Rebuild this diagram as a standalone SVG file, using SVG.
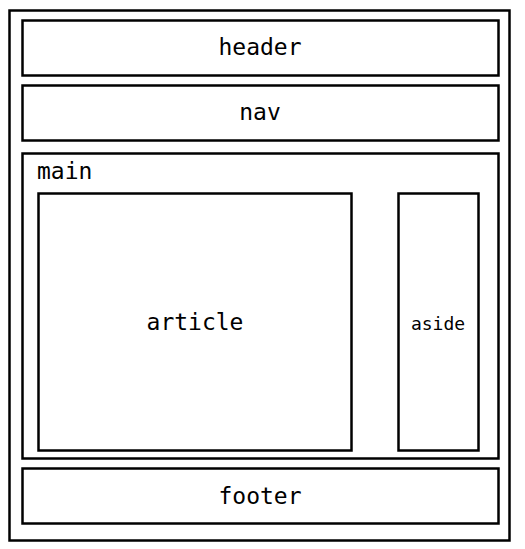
<svg xmlns="http://www.w3.org/2000/svg" width="525" height="549" viewBox="0 0 525 549">
<style>
rect{fill:#fff;stroke:#000;stroke-width:2.5}
text{font-family:"DejaVu Sans Mono","Liberation Mono",monospace;fill:#000;font-size:23px}
.c{text-anchor:middle}
.s{font-size:18px}
</style>
<rect width="525" height="549" style="stroke:none"/>
<g id="body"><rect x="9.5" y="10.5" width="500" height="530"/></g>
<g id="header"><rect x="22.5" y="20.5" width="476" height="55"/><text class="c" x="260" y="55">header</text></g>
<g id="nav"><rect x="22.5" y="85.5" width="476" height="55"/><text class="c" x="260" y="120">nav</text></g>
<g id="main"><rect x="22.5" y="153.5" width="476" height="305"/><text x="37" y="179">main</text></g>
<g id="article"><rect x="38.5" y="193.5" width="313" height="257"/><text class="c" x="195" y="330">article</text></g>
<g id="aside"><rect x="398.5" y="193.5" width="80" height="257"/><text class="c s" x="438" y="330">aside</text></g>
<g id="footer"><rect x="22.5" y="468.5" width="476" height="55"/><text class="c" x="260" y="504">footer</text></g>
<g id="connectors"></g>
</svg>
